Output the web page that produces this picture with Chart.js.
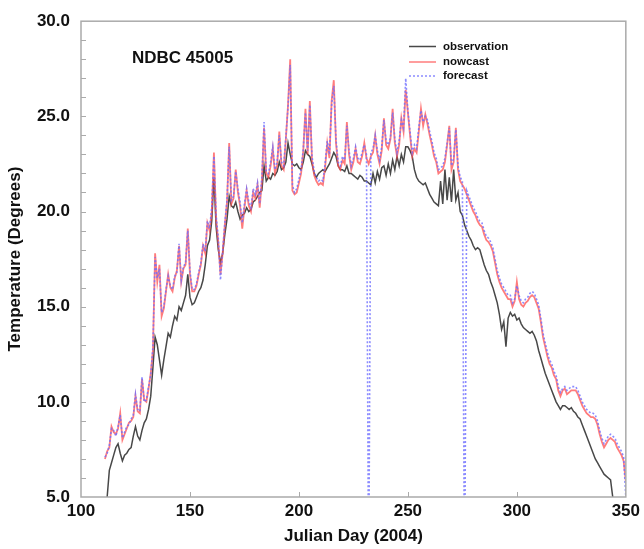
<!DOCTYPE html>
<html>
<head>
<meta charset="utf-8">
<script src="https://cdn.jsdelivr.net/npm/chart.js@4.4.1/dist/chart.umd.min.js"></script>
<style>
  html, body { margin: 0; padding: 0; background: #fff; }
  #wrap { width: 644px; height: 549px; }
</style>
</head>
<body>
<div id="wrap"><canvas id="tempChart" width="644" height="549"></canvas></div>
<script>
// daily values, Julian day 111 .. 350
const firstDay = 111;

const observation = [
    null, 5.0, 6.4, 6.8, 7.2, 7.6, 7.8, 7.3, 6.9, 7.2,
    7.3, 7.5, 7.6, 8.2, 8.7, 8.2, 8.0, 8.5, 8.9, 9.1,
    9.6, 10.3, 11.8, 13.4, 13.0, 12.2, 11.4, 12.2, 12.9, 13.6,
    13.4, 14.0, 14.5, 14.3, 15.0, 14.8, 15.2, 15.6, 16.7, 15.5,
    15.1, 15.2, 15.5, 15.8, 16.0, 16.4, 17.2, 18.2, 18.5, 19.5,
    21.8, 19.2, 18.0, 17.3, 17.8, 18.8, 19.6, 20.8, 20.3, 20.2,
    20.5, 20.0, 19.6, 19.8, 19.9, 20.2, 20.0, 20.1, 20.5, 20.6,
    20.8, 21.0, 21.1, 22.4, 21.6, 21.8, 21.7, 22.0, 21.9, 22.1,
    22.6, 22.2, 22.3, 22.6, 23.6, 23.0, 22.5, 22.4, 22.5, 22.3,
    22.2, 22.6, 23.2, 23.0, 22.9, 22.5, 22.0, 21.8, 22.0, 22.1,
    22.2, 22.1, 22.3, 22.5, 22.8, 23.1, 22.9, 22.4, 22.2, 22.2,
    22.1, 22.4, 22.0, 22.0, 21.9, 21.8, 21.7, 21.9, 21.8, 21.6,
    21.6, 21.5, 21.4, 22.0, 21.5, 22.1, 21.7, 22.3, 22.4, 21.9,
    22.5, 22.0, 22.7, 22.2, 22.9, 22.4, 23.0, 22.6, 23.4, 23.4,
    23.2, 22.9, 22.2, 21.8, 21.6, 21.5, 21.4, 21.5, 21.2, 20.9,
    20.7, 20.5, 20.4, 20.3, 21.6, 20.4, 22.2, 20.6, 21.8, 20.5,
    22.2, 20.6, 21.0, 20.0, 19.8, 19.3, 19.0, 18.7, 18.5, 18.2,
    18.0, 18.1, 18.0, 17.6, 17.2, 16.9, 16.7, 16.3, 16.0, 15.6,
    15.2, 14.6, 13.8, 14.2, 12.9, 14.4, 14.7, 14.5, 14.6, 14.3,
    14.4, 14.1, 13.9, 13.8, 13.7, 13.6, 13.7, 13.5, 13.2, 12.7,
    12.3, 11.9, 11.5, 11.2, 10.9, 10.6, 10.3, 10.0, 9.8, 9.6,
    9.8, 9.8, 9.7, 9.6, 9.7, 9.5, 9.4, 9.2, 9.1, 8.8,
    8.5, 8.2, 7.9, 7.6, 7.3, 7.0, 6.8, 6.6, 6.4, 6.2,
    6.1, 6.0, 5.9, 5.0, null, null, null, null, null, null
];

const nowcast = [
    7.0, 7.4, 7.6, 8.7, 8.4, 8.3, 8.6, 9.4, 8.0, 8.3,
    8.6, 8.9, 9.0, 9.2, 10.3, 9.5, 9.4, 11.2, 10.1, 10.0,
    10.7, 11.5, 12.7, 17.8, 16.3, 17.2, 14.5, 14.9, 15.8, 16.7,
    16.0, 15.8, 16.5, 16.9, 18.2, 16.3, 17.0, 17.2, 19.1, 16.7,
    15.8, 15.8, 16.1, 16.7, 17.2, 18.2, 17.8, 19.4, 19.0, 20.0,
    23.1, 19.6, 18.4, 16.7, 17.8, 19.3, 20.5, 23.6, 20.4, 20.7,
    22.2, 21.0, 20.3, 19.1, 20.2, 21.1, 20.3, 20.0, 21.0, 20.7,
    21.4, 20.2, 21.6, 24.4, 22.0, 21.8, 22.4, 23.3, 22.0, 22.4,
    24.2, 22.4, 22.2, 23.8, 25.6, 28.0, 21.1, 20.9, 21.0, 21.5,
    22.0, 23.2, 25.4, 23.0, 25.8, 22.7, 21.9, 21.6, 21.4, 21.5,
    21.4, 22.3, 23.6, 22.8, 25.8, 26.9, 23.6, 22.4, 22.2, 22.7,
    22.5, 24.7, 23.0, 22.2, 22.6, 23.3, 22.6, 22.5, 22.9, 23.6,
    22.8, 22.5, 22.9, 23.1, 24.0, 23.0, 22.5, 23.2, 24.9, 23.5,
    23.3, 23.8, 25.4, 23.6, 22.9, 23.5, 24.9, 24.2, 26.4, 25.2,
    24.0, 22.9, 23.3, 23.1, 24.2, 25.4, 24.5, 25.1, 24.6, 24.0,
    23.5, 22.9, 22.6, 22.0, 22.1, 22.2, 22.6, 23.5, 24.5, 22.2,
    22.6, 24.4, 22.2, 21.6, 21.4, 21.2, 20.9, 20.6, 20.3, 20.0,
    19.8, 19.5, 19.3, 19.2, 18.8, 18.5, 18.4, 18.2, 17.9, 17.3,
    16.7, 16.3, 16.0, 15.8, 15.6, 15.4, 15.4, 15.0, 15.3, 16.3,
    15.4, 15.1, 15.0, 15.2, 15.3, 15.5, 15.6, 15.5, 15.2, 14.9,
    14.2, 13.4, 12.9, 12.4, 12.0, 11.8, 11.4, 11.2, 10.6, 10.3,
    10.6, 10.7, 10.4, 10.5, 10.6, 10.6, 10.6, 10.4, 10.1, 9.8,
    9.6, 9.4, 9.3, 9.2, 9.2, 9.1, 8.8, 8.3, 7.9, 7.6,
    7.8, 8.0, 8.1, 8.0, 7.9, 7.6, 7.4, 7.2, 6.9, 5.8
];

// forecast has two dropouts (days 232 and 276) that fall off the bottom
const forecast = [
    7.1, 7.3, 7.7, 8.6, 8.5, 8.2, 8.7, 9.3, 8.1, 8.4,
    8.7, 8.8, 9.1, 9.3, 10.4, 9.6, 9.5, 11.3, 10.0, 10.1,
    10.8, 11.4, 12.9, 17.6, 16.5, 17.0, 14.7, 15.0, 15.9, 16.6,
    16.1, 15.9, 16.6, 16.8, 18.3, 16.4, 17.1, 17.3, 19.0, 16.9,
    15.9, 15.9, 16.2, 16.8, 17.3, 18.3, 17.9, 19.5, 19.1, 20.2,
    22.9, 19.8, 18.6, 16.4, 17.9, 19.4, 20.6, 23.4, 20.6, 20.8,
    22.1, 21.2, 20.5, 19.4, 20.4, 21.2, 20.5, 20.2, 21.2, 20.9,
    21.5, 20.4, 21.8, 24.7, 22.1, 22.0, 22.6, 23.4, 22.2, 22.6,
    24.0, 22.6, 22.4, 23.9, 25.5, 27.7, 21.4, 21.0, 21.2, 21.7,
    22.2, 23.3, 25.2, 23.2, 25.6, 22.9, 22.1, 21.8, 21.6, 21.7,
    21.6, 22.5, 23.7, 23.0, 25.6, 26.6, 23.8, 22.6, 22.4, 22.9,
    22.7, 24.5, 23.2, 22.4, 22.8, 23.4, 22.8, 22.7, 23.1, 23.5,
    23.0, 0.0, 23.1, 23.3, 24.0, 23.2, 22.7, 23.4, 24.8, 23.7,
    23.5, 23.9, 25.2, 23.8, 23.1, 23.7, 24.8, 24.4, 27.0, 25.3,
    24.2, 23.1, 23.5, 23.3, 24.4, 25.3, 24.7, 25.0, 24.8, 24.2,
    23.7, 23.1, 22.8, 22.2, 22.3, 22.4, 22.8, 23.6, 24.4, 22.4,
    22.8, 24.3, 22.4, 21.8, 21.6, 0.0, 21.1, 20.8, 20.5, 20.2,
    20.0, 19.7, 19.5, 19.4, 19.0, 18.7, 18.6, 18.4, 18.1, 17.5,
    16.9, 16.5, 16.2, 16.0, 15.8, 15.6, 15.6, 15.2, 15.4, 16.1,
    15.6, 15.3, 15.2, 15.4, 15.5, 15.7, 15.8, 15.7, 15.4, 15.1,
    14.4, 13.6, 13.1, 12.6, 12.2, 12.0, 11.6, 11.4, 10.8, 10.5,
    10.7, 10.8, 10.6, 10.7, 10.8, 10.8, 10.8, 10.6, 10.3, 10.0,
    9.8, 9.6, 9.5, 9.4, 9.4, 9.3, 9.0, 8.5, 8.1, 7.8,
    8.0, 8.2, 8.3, 8.2, 8.1, 7.8, 7.6, 7.4, 7.1, 5.0
];

const days = nowcast.map((_, i) => firstDay + i);

const xTicks = [100, 150, 200, 250, 300, 350];
const yTicks = [5, 10, 15, 20, 25, 30];
const seriesNames = ['observation', 'nowcast', 'forecast'];
const stationLabel = 'NDBC 45005';

const FONT = '"Liberation Sans", Arial, sans-serif';
const OBS_COLOR = 'rgba(40, 40, 40, 0.85)';
const NOW_COLOR = 'rgba(255, 80, 80, 0.75)';
const FC_COLOR = 'rgba(110, 110, 255, 0.8)';

// frame, inward ticks, station label and legend
const decorPlugin = {
    id: 'decor',
    afterDraw(chart) {
        const { ctx, chartArea: a, scales: { x, y } } = chart;
        ctx.save();
        ctx.strokeStyle = '#aaaaaa';
        ctx.lineWidth = 1.5;
        ctx.strokeRect(a.left, a.top, a.right - a.left, a.bottom - a.top);

        ctx.lineWidth = 1;
        for (let v = 6; v < 30; v++) {
            const py = Math.round(y.getPixelForValue(v)) + 0.5;
            ctx.beginPath();
            ctx.moveTo(a.left, py);
            ctx.lineTo(a.left + 5, py);
            ctx.stroke();
        }
        xTicks.slice(1, -1).forEach(v => {
            const px = Math.round(x.getPixelForValue(v)) + 0.5;
            ctx.beginPath();
            ctx.moveTo(px, a.bottom);
            ctx.lineTo(px, a.bottom - 5);
            ctx.stroke();
        });

        // station name
        ctx.fillStyle = '#111';
        ctx.font = 'bold 17px ' + FONT;
        ctx.textBaseline = 'middle';
        ctx.textAlign = 'left';
        ctx.fillText(stationLabel, 132, 58);

        // legend
        const colors = [OBS_COLOR, NOW_COLOR, FC_COLOR];
        const rows = [46.5, 62, 76];
        ctx.font = 'bold 11.5px ' + FONT;
        seriesNames.forEach((name, i) => {
            ctx.strokeStyle = colors[i];
            ctx.lineWidth = 1.5;
            ctx.setLineDash(i === 2 ? [2, 2] : []);
            ctx.beginPath();
            ctx.moveTo(409, rows[i]);
            ctx.lineTo(436, rows[i]);
            ctx.stroke();
            ctx.fillStyle = '#111';
            ctx.fillText(name, 443, rows[i]);
        });
        ctx.restore();
    }
};

const ctx = document.getElementById('tempChart').getContext('2d');
new Chart(ctx, {
    type: 'line',
    data: {
        labels: days,
        datasets: [
            {
                label: seriesNames[0],
                data: observation,
                borderColor: OBS_COLOR,
                borderWidth: 1.5,
                order: 3
            },
            {
                label: seriesNames[1],
                data: nowcast,
                borderColor: NOW_COLOR,
                borderWidth: 1.8,
                order: 2
            },
            {
                label: seriesNames[2],
                data: forecast,
                borderColor: FC_COLOR,
                borderWidth: 1.6,
                borderDash: [2, 2],
                order: 1
            }
        ]
    },
    options: {
        responsive: false,
        animation: false,
        events: [],
        layout: {
            autoPadding: false,
            padding: { left: 0, right: 14, top: 18, bottom: 0 }
        },
        elements: {
            point: { radius: 0 },
            line: { tension: 0, fill: false }
        },
        plugins: {
            legend: { display: false },
            tooltip: { enabled: false }
        },
        scales: {
            x: {
                type: 'linear',
                min: 100,
                max: 350,
                afterFit: (scale) => { scale.height = 52; },
                afterBuildTicks: (scale) => { scale.ticks = xTicks.map(v => ({ value: v })); },
                grid: { display: false, drawTicks: false },
                border: { display: false },
                ticks: {
                    padding: 4,
                    maxRotation: 0,
                    color: '#111',
                    font: { family: FONT, size: 17, weight: 'bold' }
                },
                title: {
                    display: true,
                    text: 'Julian Day (2004)',
                    color: '#111',
                    padding: { top: 2, bottom: 2 },
                    font: { family: FONT, size: 17, weight: 'bold' }
                }
            },
            y: {
                min: 5,
                max: 30,
                afterFit: (scale) => { scale.width = 81; },
                afterBuildTicks: (scale) => { scale.ticks = yTicks.map(v => ({ value: v })); },
                grid: { display: false, drawTicks: false },
                border: { display: false },
                ticks: {
                    padding: 11,
                    color: '#111',
                    font: { family: FONT, size: 17, weight: 'bold' },
                    callback: (v) => Number(v).toFixed(1)
                },
                title: {
                    display: true,
                    text: 'Temperature (Degrees)',
                    color: '#111',
                    padding: { top: 5, bottom: 0 },
                    font: { family: FONT, size: 17, weight: 'bold' }
                }
            }
        }
    },
    plugins: [decorPlugin]
});
</script>
</body>
</html>
